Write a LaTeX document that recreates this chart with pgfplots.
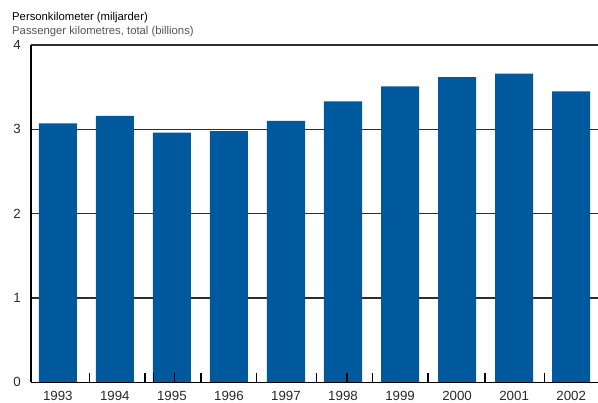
\documentclass[border=0pt]{standalone}
\usepackage{fontspec}
\setmainfont{Liberation Sans}
\usepackage{pgfplots}
\pgfplotsset{compat=1.18}
\definecolor{barblue}{RGB}{0,89,156}
\definecolor{gridc}{RGB}{45,45,45}
\definecolor{subgray}{RGB}{85,85,85}
\definecolor{labc}{RGB}{40,40,40}
\pgfplotsset{
  common/.style={
    at={(31bp,20.7bp)}, anchor=south west,
    scale only axis, width=567bp, height=337.3bp,
    xmin=-0.47, xmax=9.47, ymin=0, ymax=4,
    /pgf/number format/assume math mode=true,
    ticklabel style={font=\fontsize{13.3bp}{15bp}\selectfont, text=labc},
  }
}
\begin{document}
\begin{tikzpicture}
\useasboundingbox (0,0) rectangle (598bp,403bp);
\node[anchor=base west, inner sep=0pt, font=\fontsize{11.3bp}{13bp}\selectfont, text=black] at (12bp,382bp) {Personkilometer (miljarder)};
\node[anchor=base west, inner sep=0pt, font=\fontsize{11.3bp}{13bp}\selectfont, text=subgray] at (12bp,368bp) {Passenger kilometres, total (billions)};
\begin{axis}[
  common,
  axis x line=none, axis y line*=left,
  axis line style={line width=1.3bp, black, -},
  ytick={0,1,2,3,4},
  ymajorgrids, grid style={line width=1.3bp, gridc},
  ytick style={draw=none}, major tick length=0pt,
  yticklabel style={anchor=east, inner sep=0pt, xshift=-10bp},
  ybar, bar width=0.667,
]
\addplot[fill=barblue, draw=none, bar shift=0pt] coordinates {
(0,3.07) (1,3.16) (2,2.96) (3,2.98) (4,3.10) (5,3.33) (6,3.51) (7,3.62) (8,3.66) (9,3.45)
};
\end{axis}
\begin{axis}[
  common,
  axis x line*=bottom, axis y line=none,
  axis line style={line width=1.3bp, black, -},
  xtick={0,1,2,3,4,5,6,7,8,9},
  xticklabels={1993,1994,1995,1996,1997,1998,1999,2000,2001,2002},
  minor xtick={0.56,1.53,1.68,2.04,2.51,3.49,4.53,5.07,5.51,6.49,7.49,8.53},
  major tick length=0pt, minor tick length=9bp, tick align=inside,
  minor tick style={line width=1.2bp, black},
  xticklabel style={anchor=base, inner sep=0pt, yshift=-17.7bp},
]
\end{axis}
\end{tikzpicture}
\end{document}
